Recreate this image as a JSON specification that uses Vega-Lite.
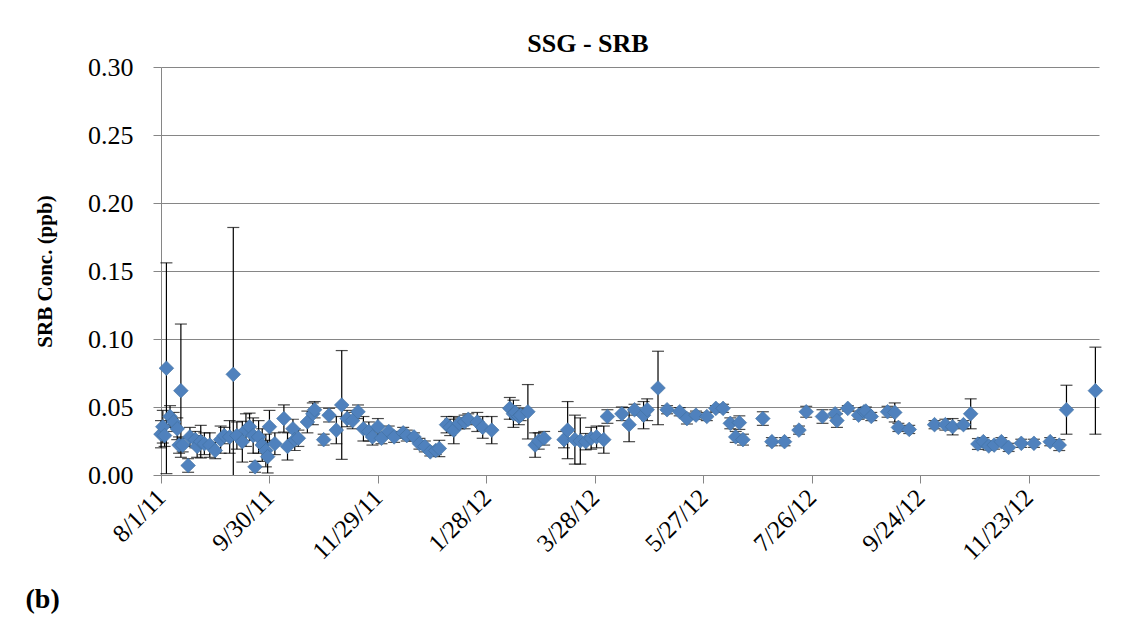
{
  "$schema": "https://vega.github.io/schema/vega-lite/v6.json",
  "width": 938,
  "height": 408,
  "autosize": {"type": "none"},
  "padding": {"left": 161, "top": 67, "right": 36, "bottom": 145},
  "background": "white",
  "title": {"text": "SSG - SRB", "font": "Liberation Serif", "fontSize": 26, "fontWeight": "bold", "color": "black", "anchor": "middle", "offset": -3, "dx": -42},
  "data": {"values": [
    {"d": "2011-08-01", "v": 0.030, "lo": 0.020, "hi": 0.040},
    {"d": "2011-08-02", "v": 0.0355, "lo": 0.0235, "hi": 0.0475},
    {"d": "2011-08-03", "v": 0.029, "lo": 0.021, "hi": 0.037},
    {"d": "2011-08-04", "v": 0.0785, "lo": 0.001, "hi": 0.156},
    {"d": "2011-08-06", "v": 0.043, "lo": 0.035, "hi": 0.051},
    {"d": "2011-08-08", "v": 0.039, "lo": 0.032, "hi": 0.046},
    {"d": "2011-08-10", "v": 0.034, "lo": 0.026, "hi": 0.042},
    {"d": "2011-08-11", "v": 0.022, "lo": 0.016, "hi": 0.028},
    {"d": "2011-08-12", "v": 0.062, "lo": 0.013, "hi": 0.111},
    {"d": "2011-08-13", "v": 0.022, "lo": 0.017, "hi": 0.027},
    {"d": "2011-08-16", "v": 0.007, "lo": 0.002, "hi": 0.012},
    {"d": "2011-08-17", "v": 0.028, "lo": 0.021, "hi": 0.035},
    {"d": "2011-08-20", "v": 0.026, "lo": 0.020, "hi": 0.032},
    {"d": "2011-08-21", "v": 0.021, "lo": 0.013, "hi": 0.029},
    {"d": "2011-08-23", "v": 0.0245, "lo": 0.0125, "hi": 0.0365},
    {"d": "2011-08-25", "v": 0.023, "lo": 0.015, "hi": 0.031},
    {"d": "2011-08-28", "v": 0.022, "lo": 0.013, "hi": 0.031},
    {"d": "2011-08-31", "v": 0.018, "lo": 0.012, "hi": 0.024},
    {"d": "2011-09-03", "v": 0.026, "lo": 0.016, "hi": 0.036},
    {"d": "2011-09-05", "v": 0.029, "lo": 0.023, "hi": 0.035},
    {"d": "2011-09-08", "v": 0.028, "lo": 0.016, "hi": 0.040},
    {"d": "2011-09-10", "v": 0.074, "lo": -0.034, "hi": 0.182},
    {"d": "2011-09-12", "v": 0.029, "lo": 0.019, "hi": 0.039},
    {"d": "2011-09-15", "v": 0.0245, "lo": 0.0095, "hi": 0.0395},
    {"d": "2011-09-17", "v": 0.033, "lo": 0.021, "hi": 0.045},
    {"d": "2011-09-19", "v": 0.0355, "lo": 0.0255, "hi": 0.0455},
    {"d": "2011-09-21", "v": 0.029, "lo": 0.016, "hi": 0.042},
    {"d": "2011-09-22", "v": 0.006, "lo": 0.002, "hi": 0.010},
    {"d": "2011-09-24", "v": 0.028, "lo": 0.016, "hi": 0.040},
    {"d": "2011-09-26", "v": 0.022, "lo": 0.010, "hi": 0.034},
    {"d": "2011-09-28", "v": 0.018, "lo": 0.006, "hi": 0.030},
    {"d": "2011-09-29", "v": 0.0135, "lo": 0.0015, "hi": 0.0255},
    {"d": "2011-09-30", "v": 0.0355, "lo": 0.0235, "hi": 0.0475},
    {"d": "2011-10-03", "v": 0.023, "lo": 0.015, "hi": 0.031},
    {"d": "2011-10-08", "v": 0.0415, "lo": 0.0315, "hi": 0.0515},
    {"d": "2011-10-10", "v": 0.021, "lo": 0.011, "hi": 0.031},
    {"d": "2011-10-13", "v": 0.034, "lo": 0.027, "hi": 0.041},
    {"d": "2011-10-14", "v": 0.026, "lo": 0.018, "hi": 0.034},
    {"d": "2011-10-16", "v": 0.027, "lo": 0.021, "hi": 0.033},
    {"d": "2011-10-21", "v": 0.039, "lo": 0.031, "hi": 0.047},
    {"d": "2011-10-24", "v": 0.045, "lo": 0.037, "hi": 0.053},
    {"d": "2011-10-25", "v": 0.048, "lo": 0.042, "hi": 0.054},
    {"d": "2011-10-30", "v": 0.026, "lo": 0.022, "hi": 0.030},
    {"d": "2011-11-02", "v": 0.044, "lo": 0.039, "hi": 0.049},
    {"d": "2011-11-06", "v": 0.033, "lo": 0.023, "hi": 0.043},
    {"d": "2011-11-09", "v": 0.0515, "lo": 0.0115, "hi": 0.0915},
    {"d": "2011-11-12", "v": 0.0415, "lo": 0.0355, "hi": 0.0475},
    {"d": "2011-11-15", "v": 0.040, "lo": 0.034, "hi": 0.046},
    {"d": "2011-11-18", "v": 0.0465, "lo": 0.0415, "hi": 0.0515},
    {"d": "2011-11-21", "v": 0.034, "lo": 0.025, "hi": 0.043},
    {"d": "2011-11-24", "v": 0.032, "lo": 0.025, "hi": 0.039},
    {"d": "2011-11-26", "v": 0.028, "lo": 0.022, "hi": 0.034},
    {"d": "2011-11-29", "v": 0.0355, "lo": 0.0295, "hi": 0.0415},
    {"d": "2011-12-01", "v": 0.027, "lo": 0.023, "hi": 0.031},
    {"d": "2011-12-05", "v": 0.032, "lo": 0.028, "hi": 0.036},
    {"d": "2011-12-08", "v": 0.028, "lo": 0.024, "hi": 0.032},
    {"d": "2011-12-13", "v": 0.031, "lo": 0.027, "hi": 0.035},
    {"d": "2011-12-15", "v": 0.029, "lo": 0.025, "hi": 0.033},
    {"d": "2011-12-19", "v": 0.028, "lo": 0.025, "hi": 0.031},
    {"d": "2011-12-22", "v": 0.023, "lo": 0.019, "hi": 0.027},
    {"d": "2011-12-25", "v": 0.021, "lo": 0.017, "hi": 0.025},
    {"d": "2011-12-28", "v": 0.017, "lo": 0.014, "hi": 0.020},
    {"d": "2011-12-31", "v": 0.018, "lo": 0.015, "hi": 0.021},
    {"d": "2012-01-02", "v": 0.0195, "lo": 0.0135, "hi": 0.0255},
    {"d": "2012-01-06", "v": 0.037, "lo": 0.031, "hi": 0.043},
    {"d": "2012-01-08", "v": 0.035, "lo": 0.029, "hi": 0.041},
    {"d": "2012-01-10", "v": 0.033, "lo": 0.023, "hi": 0.043},
    {"d": "2012-01-13", "v": 0.038, "lo": 0.034, "hi": 0.042},
    {"d": "2012-01-16", "v": 0.039, "lo": 0.034, "hi": 0.044},
    {"d": "2012-01-18", "v": 0.041, "lo": 0.037, "hi": 0.045},
    {"d": "2012-01-23", "v": 0.039, "lo": 0.032, "hi": 0.046},
    {"d": "2012-01-26", "v": 0.035, "lo": 0.027, "hi": 0.043},
    {"d": "2012-01-31", "v": 0.033, "lo": 0.023, "hi": 0.043},
    {"d": "2012-02-10", "v": 0.049, "lo": 0.041, "hi": 0.057},
    {"d": "2012-02-12", "v": 0.045, "lo": 0.035, "hi": 0.055},
    {"d": "2012-02-13", "v": 0.046, "lo": 0.041, "hi": 0.051},
    {"d": "2012-02-15", "v": 0.043, "lo": 0.037, "hi": 0.049},
    {"d": "2012-02-16", "v": 0.044, "lo": 0.040, "hi": 0.048},
    {"d": "2012-02-20", "v": 0.0465, "lo": 0.0265, "hi": 0.0665},
    {"d": "2012-02-24", "v": 0.022, "lo": 0.013, "hi": 0.031},
    {"d": "2012-02-26", "v": 0.025, "lo": 0.019, "hi": 0.031},
    {"d": "2012-02-29", "v": 0.027, "lo": 0.022, "hi": 0.032},
    {"d": "2012-03-11", "v": 0.026, "lo": 0.020, "hi": 0.032},
    {"d": "2012-03-13", "v": 0.033, "lo": 0.012, "hi": 0.054},
    {"d": "2012-03-17", "v": 0.026, "lo": 0.008, "hi": 0.044},
    {"d": "2012-03-20", "v": 0.025, "lo": 0.008, "hi": 0.042},
    {"d": "2012-03-23", "v": 0.0245, "lo": 0.0185, "hi": 0.0305},
    {"d": "2012-03-26", "v": 0.027, "lo": 0.019, "hi": 0.035},
    {"d": "2012-03-29", "v": 0.028, "lo": 0.020, "hi": 0.036},
    {"d": "2012-04-02", "v": 0.026, "lo": 0.016, "hi": 0.036},
    {"d": "2012-04-04", "v": 0.043, "lo": 0.038, "hi": 0.048},
    {"d": "2012-04-12", "v": 0.045, "lo": 0.040, "hi": 0.050},
    {"d": "2012-04-16", "v": 0.037, "lo": 0.0245, "hi": 0.0495},
    {"d": "2012-04-19", "v": 0.048, "lo": 0.044, "hi": 0.052},
    {"d": "2012-04-24", "v": 0.044, "lo": 0.034, "hi": 0.054},
    {"d": "2012-04-26", "v": 0.048, "lo": 0.040, "hi": 0.056},
    {"d": "2012-05-02", "v": 0.064, "lo": 0.037, "hi": 0.091},
    {"d": "2012-05-07", "v": 0.048, "lo": 0.045, "hi": 0.051},
    {"d": "2012-05-14", "v": 0.0465, "lo": 0.0435, "hi": 0.0495},
    {"d": "2012-05-18", "v": 0.0415, "lo": 0.0375, "hi": 0.0455},
    {"d": "2012-05-23", "v": 0.044, "lo": 0.041, "hi": 0.047},
    {"d": "2012-05-29", "v": 0.043, "lo": 0.040, "hi": 0.046},
    {"d": "2012-06-03", "v": 0.049, "lo": 0.047, "hi": 0.051},
    {"d": "2012-06-07", "v": 0.049, "lo": 0.046, "hi": 0.052},
    {"d": "2012-06-11", "v": 0.038, "lo": 0.034, "hi": 0.042},
    {"d": "2012-06-14", "v": 0.028, "lo": 0.024, "hi": 0.032},
    {"d": "2012-06-16", "v": 0.0385, "lo": 0.0335, "hi": 0.0435},
    {"d": "2012-06-18", "v": 0.026, "lo": 0.022, "hi": 0.030},
    {"d": "2012-06-29", "v": 0.0415, "lo": 0.0365, "hi": 0.0465},
    {"d": "2012-07-04", "v": 0.0245, "lo": 0.0215, "hi": 0.0275},
    {"d": "2012-07-11", "v": 0.0245, "lo": 0.0215, "hi": 0.0275},
    {"d": "2012-07-19", "v": 0.033, "lo": 0.030, "hi": 0.036},
    {"d": "2012-07-23", "v": 0.0465, "lo": 0.0425, "hi": 0.0505},
    {"d": "2012-08-01", "v": 0.043, "lo": 0.038, "hi": 0.048},
    {"d": "2012-08-08", "v": 0.045, "lo": 0.042, "hi": 0.048},
    {"d": "2012-08-09", "v": 0.040, "lo": 0.035, "hi": 0.045},
    {"d": "2012-08-15", "v": 0.049, "lo": 0.047, "hi": 0.051},
    {"d": "2012-08-21", "v": 0.044, "lo": 0.041, "hi": 0.047},
    {"d": "2012-08-24", "v": 0.0465, "lo": 0.0435, "hi": 0.0495},
    {"d": "2012-08-25", "v": 0.047, "lo": 0.044, "hi": 0.050},
    {"d": "2012-08-28", "v": 0.043, "lo": 0.040, "hi": 0.046},
    {"d": "2012-09-06", "v": 0.0465, "lo": 0.0425, "hi": 0.0505},
    {"d": "2012-09-10", "v": 0.046, "lo": 0.039, "hi": 0.053},
    {"d": "2012-09-12", "v": 0.035, "lo": 0.032, "hi": 0.038},
    {"d": "2012-09-18", "v": 0.0335, "lo": 0.0305, "hi": 0.0365},
    {"d": "2012-10-02", "v": 0.037, "lo": 0.034, "hi": 0.040},
    {"d": "2012-10-08", "v": 0.037, "lo": 0.033, "hi": 0.041},
    {"d": "2012-10-12", "v": 0.0355, "lo": 0.0295, "hi": 0.0415},
    {"d": "2012-10-18", "v": 0.037, "lo": 0.034, "hi": 0.040},
    {"d": "2012-10-22", "v": 0.045, "lo": 0.034, "hi": 0.056},
    {"d": "2012-10-26", "v": 0.0228, "lo": 0.0188, "hi": 0.0268},
    {"d": "2012-10-29", "v": 0.0245, "lo": 0.0215, "hi": 0.0275},
    {"d": "2012-11-01", "v": 0.0213, "lo": 0.0183, "hi": 0.0243},
    {"d": "2012-11-04", "v": 0.022, "lo": 0.019, "hi": 0.025},
    {"d": "2012-11-08", "v": 0.0245, "lo": 0.0215, "hi": 0.0275},
    {"d": "2012-11-12", "v": 0.0203, "lo": 0.0173, "hi": 0.0233},
    {"d": "2012-11-19", "v": 0.0233, "lo": 0.0203, "hi": 0.0263},
    {"d": "2012-11-26", "v": 0.0233, "lo": 0.0203, "hi": 0.0263},
    {"d": "2012-12-05", "v": 0.0245, "lo": 0.0215, "hi": 0.0275},
    {"d": "2012-12-10", "v": 0.022, "lo": 0.018, "hi": 0.026},
    {"d": "2012-12-14", "v": 0.048, "lo": 0.030, "hi": 0.066},
    {"d": "2012-12-30", "v": 0.062, "lo": 0.030, "hi": 0.094}
  ]},
  "encoding": {
    "x": {
      "field": "d",
      "type": "temporal",
      "scale": {"type": "utc", "domain": [{"year": 2011, "month": 8, "date": 1, "utc": true}, {"year": 2013, "month": 1, "date": 1, "utc": true}]},
      "axis": {
        "values": [
          {"year": 2011, "month": 8, "date": 1, "utc": true},
          {"year": 2011, "month": 9, "date": 30, "utc": true},
          {"year": 2011, "month": 11, "date": 29, "utc": true},
          {"year": 2012, "month": 1, "date": 28, "utc": true},
          {"year": 2012, "month": 3, "date": 28, "utc": true},
          {"year": 2012, "month": 5, "date": 27, "utc": true},
          {"year": 2012, "month": 7, "date": 26, "utc": true},
          {"year": 2012, "month": 9, "date": 24, "utc": true},
          {"year": 2012, "month": 11, "date": 23, "utc": true}
        ],
        "format": "%-m/%-d/%y",
        "grid": false,
        "labelAngle": -45,
        "labelAlign": "right",
        "labelBaseline": "middle",
        "labelPadding": 10,
        "labelFont": "Liberation Serif",
        "labelFontSize": 25,
        "labelColor": "black",
        "labelOverlap": false,
        "labelBound": false,
        "labelFlush": false,
        "tickSize": 8,
        "tickColor": "#868686",
        "domainColor": "#868686",
        "title": "(b)",
        "titleFont": "Liberation Serif",
        "titleFontSize": 28,
        "titleFontWeight": "bold",
        "titleColor": "black",
        "titleAlign": "left",
        "titleBaseline": "alphabetic",
        "titleX": -136,
        "titleY": 132
      }
    },
    "y": {"scale": {"domain": [0, 0.3], "clamp": true, "nice": false, "zero": true}}
  },
  "layer": [
    {
      "mark": {"type": "rule", "color": "black", "strokeWidth": 1.2},
      "encoding": {
        "y": {"field": "lo", "type": "quantitative", "axis": {"title": "SRB Conc. (ppb)", "values": [0, 0.05, 0.1, 0.15, 0.2, 0.25, 0.3], "format": ".2f"}},
        "y2": {"field": "hi"}
      }
    },
    {
      "transform": [{"filter": "datum.lo > 0"}],
      "mark": {"type": "tick", "orient": "horizontal", "color": "black", "size": 12, "thickness": 1.2},
      "encoding": {"y": {"field": "lo", "type": "quantitative", "axis": {"title": "SRB Conc. (ppb)", "values": [0, 0.05, 0.1, 0.15, 0.2, 0.25, 0.3], "format": ".2f"}}}
    },
    {
      "mark": {"type": "tick", "orient": "horizontal", "color": "black", "size": 12, "thickness": 1.2},
      "encoding": {"y": {"field": "hi", "type": "quantitative", "axis": {"title": "SRB Conc. (ppb)", "values": [0, 0.05, 0.1, 0.15, 0.2, 0.25, 0.3], "format": ".2f"}}}
    },
    {
      "mark": {"type": "point", "shape": "diamond", "filled": true, "size": 215, "color": "#4F81BD", "opacity": 1, "stroke": "#41709F", "strokeWidth": 0.6},
      "encoding": {"y": {"field": "v", "type": "quantitative", "axis": {"title": "SRB Conc. (ppb)", "values": [0, 0.05, 0.1, 0.15, 0.2, 0.25, 0.3], "format": ".2f"}}}
    }
  ],
  "config": {
    "view": {"stroke": null},
    "axis": {"domainWidth": 1, "tickWidth": 1},
    "axisY": {
      "grid": true,
      "gridColor": "#868686",
      "gridWidth": 1,
      "domainColor": "#868686",
      "tickColor": "#868686",
      "tickSize": 8,
      "labelPadding": 20,
      "labelFont": "Liberation Serif",
      "labelFontSize": 26,
      "labelColor": "black",
      "titleFont": "Liberation Serif",
      "titleFontSize": 21,
      "titleFontWeight": "bold",
      "titleColor": "black",
      "titlePadding": 32
    }
  }
}
